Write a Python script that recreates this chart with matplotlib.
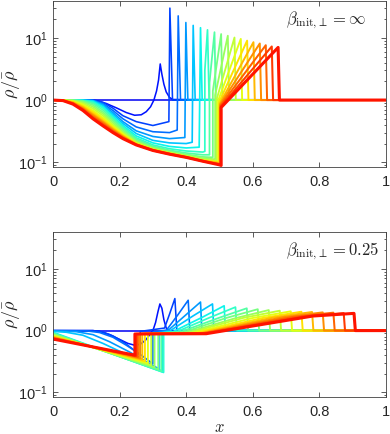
import numpy as np
import matplotlib
matplotlib.use("Agg")
import matplotlib.pyplot as plt

plt.rcParams['font.family'] = ['Liberation Sans', 'DejaVu Sans']
plt.rcParams['mathtext.fontset'] = 'cm'

# ---------------- beta_init,perp = inf (top panel) ----------------
# x grid on which the left (expanding) part of each profile was read
grid_top = [0, 0.03, 0.06, 0.09, 0.12, 0.15, 0.18, 0.21, 0.25, 0.30, 0.35, 0.40, 0.45, 0.50]

smooth_top_x = [0, 0.11, 0.13, 0.16, 0.19, 0.22, 0.245, 0.265, 0.28, 0.293, 0.303, 0.311,
                0.317, 0.322, 0.327, 0.333, 0.34, 0.35, 0.36, 1.0]
smooth_top_y = [1, 1, 0.98, 0.88, 0.75, 0.63, 0.57, 0.58, 0.65, 0.78, 1.0, 1.4,
                2.1, 3.8, 2.6, 1.8, 1.35, 1.1, 1.02, 1]

left_top = [
    [1, 1, 1, 1, 1, 0.92, 0.74, 0.56, 0.45, 0.39],
    [1, 1, 1, 1, 0.99, 0.88, 0.68, 0.50, 0.37, 0.31, 0.30],
    [1, 1, 1, 1, 0.98, 0.85, 0.63, 0.45, 0.32, 0.26, 0.24],
    [1, 1, 1, 1, 0.97, 0.82, 0.59, 0.42, 0.29, 0.225, 0.205, 0.20],
    [1, 1, 1, 0.99, 0.95, 0.78, 0.55, 0.39, 0.265, 0.205, 0.18, 0.17],
    [1, 1, 1, 0.98, 0.92, 0.74, 0.52, 0.37, 0.247, 0.19, 0.165, 0.152, 0.146],
    [1, 1, 0.995, 0.97, 0.88, 0.69, 0.49, 0.35, 0.235, 0.181, 0.156, 0.141, 0.132],
    [1, 1, 0.99, 0.95, 0.83, 0.64, 0.46, 0.33, 0.224, 0.174, 0.150, 0.134, 0.122],
    [1, 1, 0.98, 0.92, 0.78, 0.60, 0.43, 0.31, 0.215, 0.168, 0.145, 0.129, 0.116],
    [1, 1, 0.97, 0.88, 0.73, 0.56, 0.40, 0.295, 0.208, 0.164, 0.142, 0.126, 0.111],
    [1, 0.995, 0.95, 0.84, 0.68, 0.52, 0.38, 0.283, 0.202, 0.161, 0.140, 0.124, 0.108],
    [1, 0.99, 0.93, 0.80, 0.64, 0.49, 0.36, 0.273, 0.198, 0.159, 0.139, 0.123, 0.107],
    [1, 0.99, 0.92, 0.77, 0.60, 0.46, 0.345, 0.265, 0.195, 0.158, 0.138, 0.122, 0.106, 0.097],
    [1, 0.985, 0.90, 0.74, 0.57, 0.44, 0.332, 0.258, 0.193, 0.157, 0.137, 0.121, 0.105, 0.095],
    [1, 0.985, 0.89, 0.72, 0.54, 0.42, 0.32, 0.252, 0.192, 0.156, 0.136, 0.121, 0.105, 0.093],
    [1, 0.98, 0.875, 0.70, 0.52, 0.40, 0.31, 0.245, 0.191, 0.155, 0.135, 0.120, 0.104, 0.092],
    [1, 0.98, 0.86, 0.68, 0.50, 0.385, 0.30, 0.24, 0.19, 0.155, 0.135, 0.12, 0.104, 0.091],
]
contact_top_x = [0.348, 0.373, 0.396, 0.418, 0.439, 0.456, 0.470, 0.480, 0.487,
                 0.492, 0.496, 0.499, 0.501, 0.502, 0.503, 0.504, 0.505]
contact_top_lo = [0.45, 0.33, 0.25, 0.21, 0.175, 0.15, 0.132, 0.12, 0.112,
                  0.106, 0.102, 0.099, 0.097, 0.095, 0.093, 0.091, 0.089]
contact_top_hi = [0.45, 0.33, 0.25, 0.21, 0.175, 3.0, 1.9, 1.4, 1.2,
                  1.05, 0.98, 0.93, 0.88, 0.85, 0.82, 0.79, 0.76]
shock_top_x = [0.351, 0.376, 0.399, 0.421, 0.443, 0.464, 0.485, 0.505, 0.525,
               0.545, 0.564, 0.583, 0.602, 0.621, 0.639, 0.657, 0.676]
shock_top_peak = [30, 22.5, 17.6, 15.8, 14.5, 13.4, 12.3, 11.5, 10.8,
                  10.1, 9.6, 9.0, 8.5, 8.1, 7.6, 7.25, 7.0]
shock_top_end = [0.359, 0.383, 0.405, 0.427, 0.448, 0.469, 0.489, 0.509, 0.529,
                 0.549, 0.568, 0.587, 0.606, 0.625, 0.643, 0.661, 0.680]

# ---------------- beta_init,perp = 0.25 (bottom panel) ----------------
smooth_bot_x = [0, 0.12, 0.14, 0.17, 0.20, 0.225, 0.245, 0.262, 0.278, 0.29, 0.30, 0.308,
                0.315, 0.321, 0.327, 0.333, 0.34, 0.35, 1.0]
smooth_bot_y = [1, 1, 0.97, 0.86, 0.72, 0.62, 0.58, 0.6, 0.7, 0.85, 1.0, 1.35,
                2.0, 2.7, 2.3, 1.5, 1.1, 1.0, 1]

left_bot_x = [
    [0, 0.12, 0.15, 0.18, 0.21, 0.24],
    [0, 0.10, 0.14, 0.18, 0.22, 0.26],
    [0, 0.07, 0.12, 0.17, 0.23],
    [0, 0.04, 0.09, 0.15],
    [0], [0], [0], [0], [0], [0], [0], [0], [0], [0], [0], [0], [0],
]
left_bot_y = [
    [1, 1, 0.95, 0.82, 0.66, 0.5],
    [1, 0.99, 0.93, 0.78, 0.58, 0.42],
    [0.99, 0.96, 0.86, 0.66, 0.45],
    [0.97, 0.94, 0.84, 0.62],
    [0.94], [0.92], [0.90], [0.88], [0.86], [0.84], [0.82], [0.80],
    [0.79], [0.77], [0.76], [0.745], [0.73],
]
contact_bot_x = [0.262, 0.300, 0.318, 0.328, 0.332, 0.331, 0.325, 0.316, 0.305,
                 0.295, 0.285, 0.276, 0.268, 0.261, 0.255, 0.250, 0.246]
contact_bot_lo = [0.40, 0.29, 0.24, 0.22, 0.21, 0.213, 0.221, 0.237, 0.257,
                  0.277, 0.298, 0.319, 0.339, 0.357, 0.374, 0.388, 0.40]
contact_bot_hi = [0.97, 0.95, 0.94, 0.93, 0.925, 0.92, 0.915, 0.91, 0.905,
                  0.90, 0.90, 0.895, 0.89, 0.89, 0.885, 0.885, 0.88]
ramp_bot_x = [0.335, 0.341, 0.345, 0.35, 0.36, 0.37, 0.38, 0.39, 0.40,
              0.41, 0.42, 0.43, 0.44, 0.445, 0.45, 0.455, 0.46]
ramp_bot_y = [1.1, 1.02, 1.0, 0.98, 0.96, 0.95, 0.94, 0.93, 0.925,
              0.92, 0.915, 0.91, 0.905, 0.9, 0.9, 0.895, 0.89]
knee_bot_x = [0.35, 0.375, 0.395, 0.42, 0.45, 0.47, 0.50, 0.52, 0.55,
              0.57, 0.60, 0.63, 0.66, 0.69, 0.72, 0.75, 0.78]
knee_bot_y = [1.85, 1.8, 1.72, 1.72, 1.66, 1.62, 1.62, 1.6, 1.6,
              1.6, 1.6, 1.6, 1.62, 1.64, 1.66, 1.68, 1.72]
shock_bot_x = [0.366, 0.406, 0.443, 0.479, 0.514, 0.548, 0.582, 0.615, 0.648,
               0.681, 0.714, 0.746, 0.778, 0.810, 0.842, 0.873, 0.904]
shock_bot_peak = [3.3, 3.1, 2.9, 2.7, 2.52, 2.4, 2.3, 2.22, 2.15,
                  2.1, 2.05, 2.02, 2.0, 1.97, 1.95, 1.92, 1.9]
shock_bot_end = [0.372, 0.411, 0.447, 0.483, 0.518, 0.552, 0.586, 0.619, 0.652,
                 0.685, 0.718, 0.750, 0.782, 0.814, 0.846, 0.877, 0.908]

x_ticks = [0, 0.2, 0.4, 0.6, 0.8, 1]
x_ticklabels = ['0', '0.2', '0.4', '0.6', '0.8', '1']
y_ticks = [0.1, 1, 10]
y_ticklabels = [r'$\mathregular{10^{-1}}$', r'$\mathregular{10^{0}}$', r'$\mathregular{10^{1}}$']
labels = [r'$\beta_{\mathrm{init},\!\perp} = \infty$', r'$\beta_{\mathrm{init},\!\perp} = 0.25$']


def top_curves():
    curves = [([0, 1], [1, 1]), (smooth_top_x, smooth_top_y)]
    for k in range(len(left_top)):
        n = len(left_top[k])
        xs = grid_top[:n] + [contact_top_x[k], contact_top_x[k], shock_top_x[k], shock_top_end[k], 1.0]
        ys = left_top[k] + [contact_top_lo[k], contact_top_hi[k], shock_top_peak[k], 1.0, 1.0]
        curves.append((xs, ys))
    return curves


def bot_curves():
    curves = [([0, 1], [1, 1]), (smooth_bot_x, smooth_bot_y)]
    for k in range(len(left_bot_x)):
        xs = left_bot_x[k] + [contact_bot_x[k], contact_bot_x[k], ramp_bot_x[k], knee_bot_x[k],
                              shock_bot_x[k], shock_bot_end[k], 1.0]
        ys = left_bot_y[k] + [contact_bot_lo[k], contact_bot_hi[k], ramp_bot_y[k], knee_bot_y[k],
                              shock_bot_peak[k], 1.0, 1.0]
        curves.append((xs, ys))
    return curves


fig = plt.figure(figsize=(3.9, 4.34), dpi=100)
ax1 = fig.add_axes([0.1359, 0.6159, 0.8538, 0.3818])
ax2 = fig.add_axes([0.1359, 0.0859, 0.8538, 0.3788])

for ax, curves, lab in [(ax1, top_curves(), labels[0]), (ax2, bot_curves(), labels[1])]:
    n = len(curves)
    colors = plt.cm.jet(np.linspace(0.1, 0.89, n))
    widths = np.linspace(1.1, 1.5, n)
    widths[-1] = 2.2
    for i, (xs, ys) in enumerate(curves):
        ax.plot(xs, ys, color=colors[i], lw=widths[i], solid_joinstyle='round')
    ax.set_yscale('log')
    ax.set_xlim(0, 1)
    ax.set_ylim(0.085, 39)
    ax.set_xticks(x_ticks)
    ax.set_xticklabels(x_ticklabels)
    ax.set_yticks(y_ticks)
    ax.set_yticklabels(y_ticklabels)
    ax.tick_params(which='both', direction='in', top=True, right=True,
                   colors='#404040', labelcolor='#262626', labelsize=10.5, width=0.6)
    ax.tick_params(which='major', length=3.5)
    ax.tick_params(which='minor', length=1.8)
    ax.tick_params(axis='x', pad=6)
    ax.tick_params(axis='y', pad=4)
    for s in ax.spines.values():
        s.set_color('#404040')
        s.set_linewidth(0.6)
    ax.set_ylabel(r'$\rho/\bar{\rho}$', fontsize=13, color='#262626')
    ax.yaxis.set_label_coords(-0.093, 0.5)
    ax.text(0.70, 0.885, lab, transform=ax.transAxes, fontsize=12,
            ha='left', va='center', color='#262626')

ax2.set_xlabel(r'$x$', fontsize=12, color='#262626')
ax2.xaxis.set_label_coords(0.5, -0.14)

fig.savefig('out.png', dpi=100)
